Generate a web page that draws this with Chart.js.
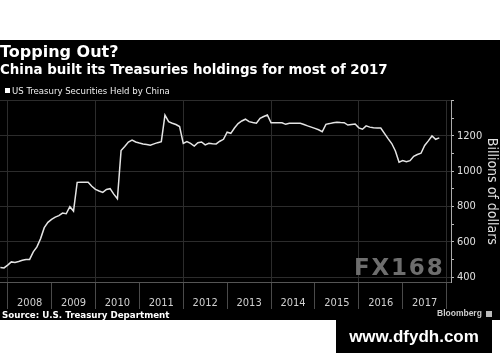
<!DOCTYPE html>
<html>
<head>
<meta charset="utf-8">
<script src="https://cdn.jsdelivr.net/npm/chart.js@4.4.0/dist/chart.umd.min.js"></script>
<style>
html,body{margin:0;padding:0;background:#fff;width:500px;height:362px;overflow:hidden;}
#panel{position:absolute;left:0;top:40px;width:500px;height:280px;background:#000;}
#wrap{position:absolute;left:0;top:0;width:500px;height:280px;}
#legend{position:absolute;left:5px;top:45px;height:12px;line-height:12px;font:9.5px 'DejaVu Sans Condensed','DejaVu Sans';color:#eee;white-space:nowrap;}
#legend i{display:inline-block;width:5px;height:5px;background:#fff;margin-right:2px;vertical-align:1px;}
#wm{position:absolute;left:354px;top:216px;font:bold 23px 'DejaVu Sans';line-height:23px;color:#6e6e6e;letter-spacing:1.8px;white-space:nowrap;}
#src{position:absolute;left:2px;top:270px;font:bold 8.7px 'DejaVu Sans';line-height:11px;color:#fff;white-space:nowrap;}
#bbg{position:absolute;left:437px;top:268px;font:bold 8.5px 'Liberation Sans';line-height:11px;color:#ccc;white-space:nowrap;}
#bbg span{display:inline-block;width:6px;height:6px;background:#bbb;margin-left:4px;vertical-align:middle;}
#dfy{position:absolute;left:336px;top:320px;width:156px;height:33px;background:#000;color:#fff;font:bold 17px 'Liberation Sans';display:flex;align-items:center;justify-content:center;}
</style>
</head>
<body>
<div id="panel">
  <div id="wrap"><canvas id="c" width="500" height="280"></canvas></div>
  <div id="legend"><i></i><span id="legtxt"></span></div>
  <div id="wm">FX168</div>
  <div id="src">Source: U.S. Treasury Department</div>
  <div id="bbg">Bloomberg<span></span></div>
</div>
<div id="dfy">www.dfydh.com</div>
<script>
// ---- data ----
const seriesName = 'US Treasury Securities Held by China';
const firstMonth = { year: 2007, month: 10 }; // first value is Oct 2007, monthly to Oct 2017
const holdings = [
  // 2007 Oct-Dec
  454, 452, 468,
  // 2008
  486, 483, 488, 495, 500, 500, 543, 571, 618, 680, 710, 727,
  // 2009
  740, 748, 763, 759, 799, 774, 937, 938, 937, 937, 915, 897,
  // 2010
  888, 880, 897, 901, 870, 844, 1117, 1140, 1165, 1177, 1166, 1160,
  // 2011
  1155, 1152, 1147, 1155, 1162, 1168, 1318, 1281, 1272, 1265, 1253, 1158,
  // 2012
  1168, 1158, 1143, 1162, 1166, 1149, 1158, 1156, 1155, 1170, 1181, 1221,
  // 2013
  1215, 1245, 1270, 1285, 1295, 1281, 1276, 1272, 1300, 1310, 1319, 1275,
  // 2014
  1275, 1275, 1275, 1266, 1272, 1272, 1272, 1272, 1265, 1257, 1250, 1243,
  // 2015
  1235, 1224, 1266, 1270, 1275, 1278, 1276, 1275, 1262, 1265, 1268, 1246,
  // 2016
  1238, 1257, 1250, 1246, 1245, 1245, 1215, 1185, 1157, 1115, 1051, 1060,
  // 2017 Jan-Oct
  1054, 1060, 1085, 1095, 1102, 1146, 1172, 1200, 1181, 1189
];
const yearLabels = ['2008','2009','2010','2011','2012','2013','2014','2015','2016','2017'];
const yearBounds = [2008,2009,2010,2011,2012,2013,2014,2015,2016,2017,2018];
const yTickValues = [400,500,600,700,800,900,1000,1100,1200,1300,1400];
const yTickLabels = [400,600,800,1000,1200];

document.getElementById('legtxt').textContent = seriesName;

// month points placed at month end (year + month/12)
const points = holdings.map((v, i) => {
  const mIdx = firstMonth.month - 1 + i;
  const yr = firstMonth.year + Math.floor(mIdx / 12);
  const mo = (mIdx % 12) + 1;
  return { x: yr + mo / 12, y: v };
});

const gridCol = '#2c2c2c';
const sepCol = '#4a4a4a';
const axisFont = { family: "'DejaVu Sans Condensed','DejaVu Sans'", size: 11 };
const midTicks = yearLabels.map(l => Number(l) + 0.5);
const xTickVals = yearBounds.concat(midTicks).sort((a,b)=>a-b);

new Chart(document.getElementById('c'), {
  type: 'line',
  data: {
    datasets: [{
      label: seriesName,
      data: points,
      borderColor: '#e4e4e4',
      backgroundColor: '#ffffff',
      borderWidth: 1.5,
      pointRadius: 0,
      tension: 0,
      fill: false
    }]
  },
  options: {
    responsive: false,
    animation: false,
    layout: { padding: { left: 0, right: 0, top: 0, bottom: 11 } },
    plugins: {
      title: {
        display: true, text: 'Topping Out?', align: 'start', color: '#fff',
        font: { family: "'DejaVu Sans'", size: 16, weight: 'bold' },
        padding: { top: 3, bottom: 0 }
      },
      subtitle: {
        display: true, text: 'China built its Treasuries holdings for most of 2017', align: 'start', color: '#fff',
        font: { family: "'DejaVu Sans'", size: 13.4, weight: 'bold' },
        padding: { top: 0, bottom: 22.4 }
      },
      legend: { display: false },
      tooltip: { enabled: false }
    },
    scales: {
      x: {
        type: 'linear', position: 'bottom',
        min: 2007.825, max: 2018.1,
        afterBuildTicks: s => { s.ticks = xTickVals.map(v => ({ value: v })); },
        afterFit: s => { s.height = 27; },
        grid: {
          color: ctx => {
            const v = ctx.tick && ctx.tick.value;
            return (Number.isInteger(v) && v % 2 === 0) ? gridCol : 'transparent';
          },
          tickColor: ctx => {
            const v = ctx.tick && ctx.tick.value;
            return Number.isInteger(v) ? sepCol : 'transparent';
          },
          tickLength: 27, lineWidth: 1
        },
        border: { display: true, color: '#555' },
        ticks: {
          autoSkip: false, maxRotation: 0, minRotation: 0, padding: -12,
          color: '#d0d0d0', font: axisFont,
          callback: v => Number.isInteger(v) ? '' : String(Math.floor(v))
        }
      },
      y: {
        type: 'linear', position: 'right',
        min: 372, max: 1400,
        afterBuildTicks: s => { s.ticks = yTickValues.map(v => ({ value: v })); },
        afterFit: s => { s.width = 49; },
        grid: {
          color: ctx => (ctx.tick && ctx.tick.value % 200 === 0) ? gridCol : 'transparent',
          tickColor: '#bbb', tickLength: 3, lineWidth: 1
        },
        border: { display: true, color: '#aaa' },
        ticks: {
          padding: 3, color: '#e0e0e0', font: axisFont,
          callback: v => yTickLabels.includes(v) ? String(v) : ''
        },
        title: {
          display: true, text: 'Billions of dollars', color: '#e0e0e0',
          font: { family: "'DejaVu Sans Condensed','DejaVu Sans'", size: 14 },
          padding: 0
        }
      }
    }
  }
});
</script>
</body>
</html>
